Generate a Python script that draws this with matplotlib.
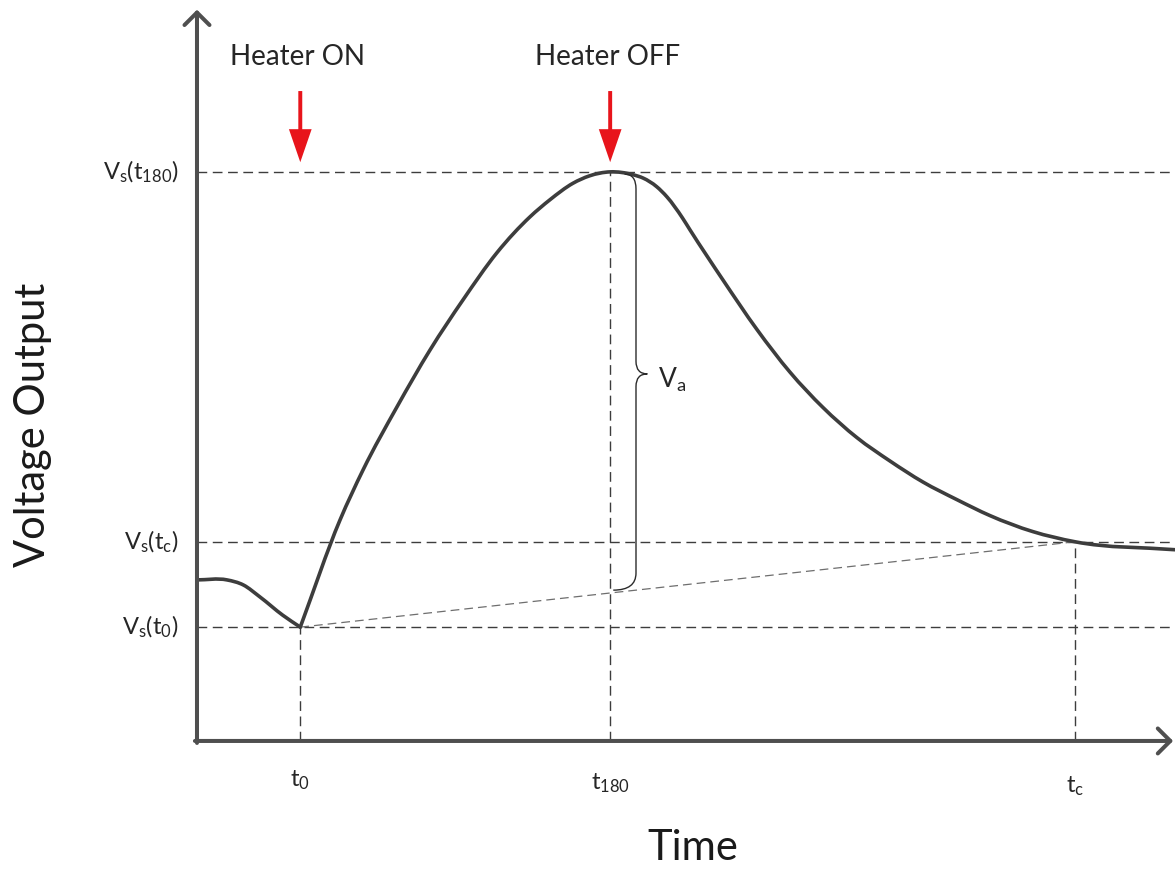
import matplotlib.pyplot as plt
import numpy as np
from matplotlib.patches import FancyArrow, PathPatch
from matplotlib.path import Path

plt.rcParams["font.family"] = ["Lato", "DejaVu Sans"]
plt.rcParams["mathtext.fontset"] = "custom"
plt.rcParams["mathtext.rm"] = "Lato"
plt.rcParams["mathtext.it"] = "Lato:italic"

# sensor output (arbitrary time / voltage units)
# before heater switches on
time_pre = [0.0, 0.29, 0.45, 0.61, 0.83, 1.0]
volt_pre = [2.83, 2.83, 2.74, 2.53, 2.21, 2.0]
# heating and cooling
time_main = [1.0, 1.384, 1.607, 1.936, 2.256, 2.575, 2.904, 3.224, 3.417, 3.64, 3.80, 4.0,
             4.22, 4.32, 4.45, 4.55, 4.70, 4.773, 5.092, 5.421, 5.741, 6.06, 6.389, 6.708,
             7.028, 7.357, 7.677, 8.09, 8.5, 9.47]
volt_main = [2.0, 3.88, 4.76, 5.87, 6.87, 7.75, 8.58, 9.21, 9.51, 9.80, 9.93, 10.0,
             9.95, 9.89, 9.74, 9.56, 9.19, 8.98, 8.10, 7.23, 6.48, 5.86, 5.33, 4.92,
             4.55, 4.24, 3.96, 3.68, 3.5, 3.36]

# key instants and levels
t_marks = [1.0, 4.0, 8.5]
t_labels = [r"$\mathrm{t_0}$", r"$\mathrm{t_{180}}$", r"$\mathrm{t_c}$"]
v_marks = [2.0, 3.5, 10.0]
v_labels = [r"$\mathrm{V_s(t_0)}$", r"$\mathrm{V_s(t_c)}$", r"$\mathrm{V_s(t_{180})}$"]
heater_t = [1.0, 4.0]
heater_labels = ["Heater ON", "Heater OFF"]

DARK = "#3d3d3d"
AXIS = "#4f4f4f"
RED = "#e8141b"
DASH = (0, (7, 4))


def smooth_path(xs, ys):
  # hermite curve through the points, drawn as cubic beziers
  x = np.asarray(xs, float)
  y = np.asarray(ys, float)
  h = np.diff(x)
  d = np.diff(y) / h
  m = np.empty_like(x)
  m[1:-1] = (d[1:] * h[:-1] + d[:-1] * h[1:]) / (h[:-1] + h[1:])
  m[0], m[-1] = d[0], d[-1]
  verts = [(x[0], y[0])]
  codes = [Path.MOVETO]
  for i in range(len(x) - 1):
    verts += [(x[i] + h[i] / 3, y[i] + m[i] * h[i] / 3),
              (x[i + 1] - h[i] / 3, y[i + 1] - m[i + 1] * h[i] / 3),
              (x[i + 1], y[i + 1])]
    codes += [Path.CURVE4] * 3
  return Path(verts, codes)


fig = plt.figure(figsize=(11.75, 8.69), dpi=100)
ax = fig.add_axes([0, 0, 1, 1])
ax.set_xlim(-1.907, 9.468)
ax.set_ylim(-2.25, 13.02)
ax.axis("off")

x_end = 9.47

# reference levels and instants
v0, vc, v180 = v_marks
t0, t180, tc = t_marks
for v in v_marks:
  ax.plot([0, x_end], [v, v], color=DARK, lw=1.0, ls=DASH, zorder=1)
for t, v in zip(t_marks, [v0, v180, vc]):
  ax.plot([t, t], [0, v], color=DARK, lw=1.0, ls=DASH, zorder=1)

# baseline from t0 to tc
ax.plot([t0, tc], [v0, vc], color="#6e6e6e", lw=0.9, ls=DASH, zorder=1)

# signal
for xs, ys in [(time_pre, volt_pre), (time_main, volt_main)]:
  ax.add_patch(PathPatch(smooth_path(xs, ys), fill=False, ec=DARK, lw=2.6,
                         capstyle="round", joinstyle="round", zorder=3))

# axes with open arrow heads
arrow_kw = dict(arrowstyle="->,head_length=0.45,head_width=0.45", lw=2.9, color=AXIS,
                shrinkA=0, shrinkB=0, mutation_scale=20)
ax.annotate("", xy=(0, 12.85), xytext=(0, -0.035), arrowprops=arrow_kw, zorder=4)
ax.annotate("", xy=(9.45, 0), xytext=(-0.02, 0), arrowprops=arrow_kw, zorder=4)

# heater arrows
for t, label in zip(heater_t, heater_labels):
  ax.add_patch(FancyArrow(t, 11.42, 0, -1.25, width=0.038, head_width=0.22, head_length=0.58,
                          length_includes_head=True, color=RED, lw=0, zorder=5))
  ax.text(t - 0.03, 12.02, label, ha="center", va="center", fontsize=20, color="#262626")

# brace for Va
bx, tip_x, tip_v = 4.25, 4.36, 6.45
base_v = v0 + (vc - v0) * (bx - t0) / (tc - t0)
verts = [(4.14, 9.96), (bx, 9.96), (bx, 9.7), (bx, tip_v + 0.22), (bx, tip_v), (tip_x, tip_v),
         (bx, tip_v), (bx, tip_v - 0.22), (bx, base_v + 0.3), (bx, base_v), (4.03, base_v)]
codes = [Path.MOVETO, Path.CURVE3, Path.CURVE3, Path.LINETO, Path.CURVE3, Path.CURVE3,
         Path.CURVE3, Path.CURVE3, Path.LINETO, Path.CURVE3, Path.CURVE3]
ax.add_patch(PathPatch(Path(verts, codes), fill=False, ec="#2b2b2b", lw=1.0, zorder=4))
ax.text(4.46, tip_v - 0.1, r"$\mathrm{V_a}$", ha="left", va="center", fontsize=19, color="#262626")

# tick labels
for t, lab, off in zip(t_marks, t_labels, [-0.69, -0.74, -0.8]):
  ax.text(t, off, lab, ha="center", va="center", fontsize=17, color="#262626")
for v, lab in zip(v_marks, v_labels):
  ax.text(-0.18, v, lab, ha="right", va="center", fontsize=17, color="#262626")

# axis titles
ax.text(-1.59, 5.55, "Voltage Output", rotation=90, ha="center", va="center", fontsize=30, color="#1a1a1a")
ax.text(4.8, -1.88, "Time", ha="center", va="center", fontsize=30, color="#1a1a1a")

fig.savefig("out.png", dpi=100, facecolor="white")
